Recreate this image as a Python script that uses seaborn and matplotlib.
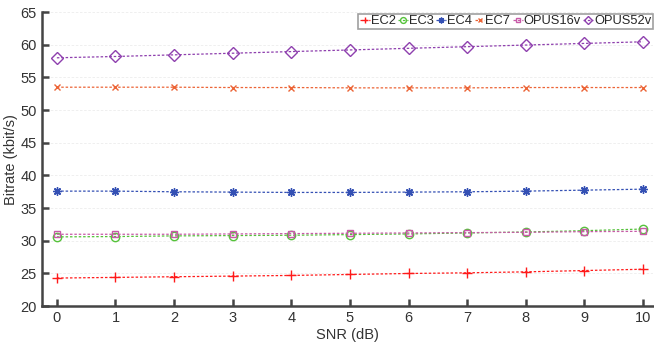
import matplotlib
matplotlib.use("Agg")
import matplotlib.pyplot as plt
import numpy as np
import pandas as pd
import seaborn as sns

snr = list(range(11))
ec2 = [24.3, 24.4, 24.5, 24.6, 24.7, 24.85, 25.0, 25.1, 25.25, 25.45, 25.65]
ec3 = [30.6, 30.65, 30.75, 30.8, 30.85, 30.95, 31.05, 31.2, 31.35, 31.55, 31.8]
ec4 = [37.6, 37.6, 37.5, 37.45, 37.4, 37.4, 37.45, 37.5, 37.6, 37.75, 37.9]
ec7 = [53.5, 53.5, 53.5, 53.45, 53.45, 53.4, 53.4, 53.4, 53.45, 53.45, 53.45]
opus16v = [31.0, 31.0, 31.0, 31.05, 31.1, 31.15, 31.2, 31.25, 31.3, 31.4, 31.45]
opus52v = [58.0, 58.2, 58.45, 58.7, 58.95, 59.2, 59.45, 59.7, 59.95, 60.2, 60.45]

names = ["EC2", "EC3", "EC4", "EC7", "OPUS16v", "OPUS52v"]
series = [ec2, ec3, ec4, ec7, opus16v, opus52v]
colors = ["#ff1a1a", "#55c23a", "#3450b4", "#ec6436", "#c85aa8", "#8e3fae"]
markers = ["+", "o", (8, 2, 0), "x", "s", "D"]
msizes = [7, 6, 6, 5, 5, 6]

df = pd.DataFrame({"SNR": snr * len(names),
                   "Bitrate": sum(series, []),
                   "Codec": sum([[n] * len(snr) for n in names], [])})

sns.set_theme(style="white")
plt.rcParams["font.family"] = ["Liberation Sans", "DejaVu Sans"]

fig, ax = plt.subplots(figsize=(6.54, 3.44), dpi=100)
for name, col, mk, ms in zip(names, colors, markers, msizes):
    d = df[df.Codec == name]
    sns.lineplot(data=d, x="SNR", y="Bitrate", ax=ax, color=col, linestyle=(0, (2, 1.5)),
                 linewidth=0.9, marker=mk, markersize=ms, markerfacecolor="none",
                 markeredgecolor=col, markeredgewidth=1.0, label=name)

ax.set_xlim(-0.256, 10.17)
ax.set_ylim(20, 65)
ax.set_xticks(range(11))
ax.set_yticks(range(20, 66, 5))
ax.yaxis.grid(True, color="#ececec", linestyle=(0, (3, 2)), linewidth=0.6)
ax.set_axisbelow(True)
for s in ["top", "right"]:
    ax.spines[s].set_visible(False)
for s in ["left", "bottom"]:
    ax.spines[s].set_color("#444444")
    ax.spines[s].set_linewidth(1.8)
ax.tick_params(direction="in", length=5, width=1.8, color="#444444",
               labelsize=10.5, labelcolor="#333333", left=True, bottom=True)
ax.set_xlabel("SNR (dB)", fontsize=10.5, color="#333333", labelpad=2)
ax.set_ylabel("Bitrate (kbit/s)", fontsize=10.5, color="#333333", labelpad=2)

leg = ax.legend(loc="upper right", ncol=6, fontsize=9.3, frameon=True, fancybox=False,
                handlelength=0.75, handletextpad=0.08, columnspacing=0.2, markerscale=0.7,
                borderpad=0.12, borderaxespad=0.0, bbox_to_anchor=(1.0, 0.995))
leg.get_frame().set_edgecolor("#888888")
leg.get_frame().set_linewidth(1.2)

fig.subplots_adjust(left=0.064, right=0.9985, top=0.965, bottom=0.11)
fig.savefig("out.png", dpi=100)
